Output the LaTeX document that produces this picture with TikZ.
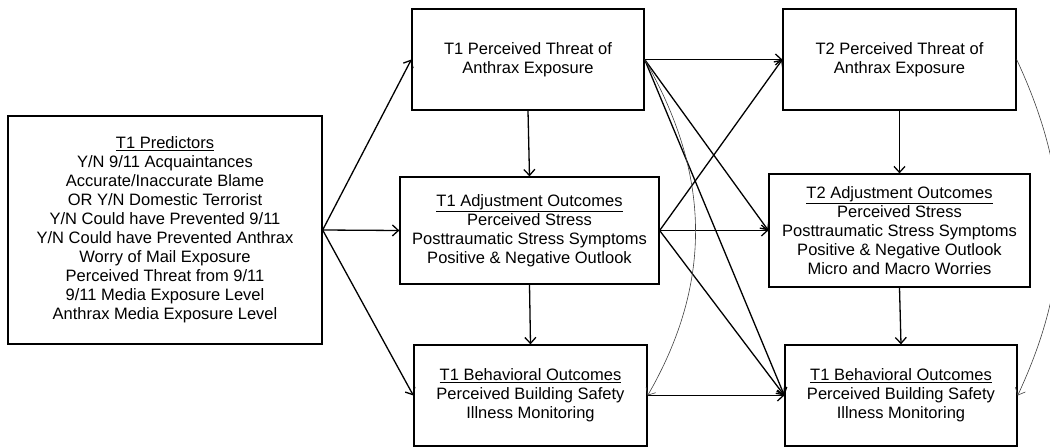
\documentclass[tikz,border=0pt]{standalone}
\usepackage{fontspec}
\setmainfont{Liberation Sans}
\usetikzlibrary{arrows.meta}
\tikzset{
  box/.style={draw, line width=1.3pt, align=center, inner sep=0pt,
    font=\fontsize{16.5}{19}\selectfont},
  link/.style={-{Straight Barb[length=6pt,width=11pt]}, line width=1.3pt},
  thinlink/.style={-{Straight Barb[length=6pt,width=11pt]}, line width=0.6pt, black!75},
}
\begin{document}
\begin{tikzpicture}[x=1pt, y=1pt]
\useasboundingbox (0,0) rectangle (1050,-447);
% Predictors
\node[box, minimum width=314pt, minimum height=228pt] (pred) at (165,-230)
  {\underline{T1 Predictors}\\Y/N 9/11 Acquaintances\\Accurate/Inaccurate Blame\\OR Y/N Domestic Terrorist\\Y/N Could have Prevented 9/11\\Y/N Could have Prevented Anthrax\\Worry of Mail Exposure\\Perceived Threat from 9/11\\9/11 Media Exposure Level\\Anthrax Media Exposure Level};
% T1 column
\node[box, minimum width=232pt, minimum height=101pt] (t1thr) at (528,-59.5)
  {T1 Perceived Threat of\\Anthrax Exposure};
\node[box, minimum width=259pt, minimum height=107pt] (t1adj) at (529.5,-230.5)
  {\underline{T1 Adjustment Outcomes}\\Perceived Stress\\Posttraumatic Stress Symptoms\\Positive \& Negative Outlook};
\node[box, minimum width=233pt, minimum height=101pt] (t1beh) at (530.5,-395.5)
  {\underline{T1 Behavioral Outcomes}\\Perceived Building Safety\\Illness Monitoring};
% T2 column
\node[box, minimum width=233pt, minimum height=101pt] (t2thr) at (899.5,-59.5)
  {T2 Perceived Threat of\\Anthrax Exposure};
\node[box, minimum width=261pt, minimum height=113pt] (t2adj) at (899.5,-230.5)
  {\underline{T2 Adjustment Outcomes}\\Perceived Stress\\Posttraumatic Stress Symptoms\\Positive \& Negative Outlook\\Micro and Macro Worries};
\node[box, minimum width=232pt, minimum height=101pt] (t2beh) at (901,-395.5)
  {\underline{T1 Behavioral Outcomes}\\Perceived Building Safety\\Illness Monitoring};
% Predictors to T1
\draw[link] (pred.east) -- (t1thr.west);
\draw[link] (pred.east) -- (t1adj.west);
\draw[link] (pred.east) -- (t1beh.west);
% Within time
\draw[link] (t1thr.south) -- (t1adj.north);
\draw[link] (t1adj.south) -- (t1beh.north);
\draw[link] (t2thr.south) -- (t2adj.north);
\draw[link] (t2adj.south) -- (t2beh.north);
% T1 to T2
\draw[link] (t1thr.east) -- (t2thr.west);
\draw[link] (t1thr.east) -- (t2adj.west);
\draw[link] (t1thr.east) -- (t2beh.west);
\draw[link] (t1adj.east) -- (t2thr.west);
\draw[link] (t1adj.east) -- (t2adj.west);
\draw[link] (t1adj.east) -- (t2beh.west);
\draw[link] (t1beh.east) -- (t2beh.west);
% Curved paths
\draw[thinlink] (t1thr.east) to[out=-60, in=60] (t1beh.east);
\draw[thinlink] (t2thr.east) to[out=-65, in=65] (t2beh.east);
\end{tikzpicture}
\end{document}
